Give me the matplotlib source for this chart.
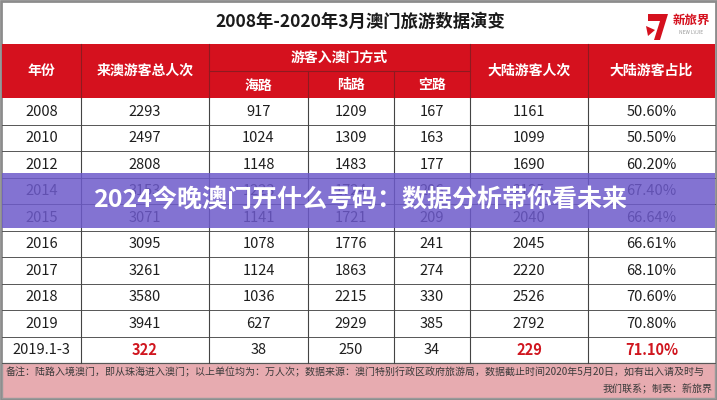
import matplotlib.pyplot as plt
from matplotlib.patches import Rectangle, Polygon

plt.rcParams['font.family'] = ['Noto Sans CJK SC', 'DejaVu Sans']

# table data (万人次)
years = ['2008', '2010', '2012', '2014', '2015', '2016', '2017', '2018', '2019', '2019.1-3']
total = [2293, 2497, 2808, 3153, 3071, 3095, 3261, 3580, 3941, 322]
sea = [917, 1024, 1148, 1223, 1141, 1078, 1124, 1036, 627, 38]
land = [1209, 1309, 1483, 1724, 1721, 1776, 1863, 2215, 2929, 250]
air = [167, 163, 177, 206, 209, 241, 274, 330, 385, 34]
mainland = [1161, 1099, 1690, 2125, 2040, 2045, 2220, 2526, 2792, 229]
share = ['50.60%', '50.50%', '60.20%', '67.40%', '66.64%', '66.61%', '68.10%', '70.60%', '70.80%', '71.10%']

title = '2008年-2020年3月澳门旅游数据演变'
banner = '2024今晚澳门开什么号码：数据分析带你看未来'
note1 = '备注：陆路入境澳门，即从珠海进入澳门；以上单位均为：万人次；数据来源：澳门特别行政区政府旅游局，数据截止时间2020年5月20日，如有出入请及时与'
note2 = '我们联系；制表：新旅界'

RED = '#d5111e'
W, H = 717, 400
col_x = [2, 81, 209, 308, 394, 470, 588, 715]
head_top, head_mid, head_bot = 44, 71, 98
row_h = 26.5
note_top, note_bot = 363, 398

fig = plt.figure(figsize=(7.17, 4.0), dpi=100)
ax = fig.add_axes([0, 0, 1, 1])
ax.set_xlim(0, W)
ax.set_ylim(H, 0)
ax.axis('off')

# frame + title
ax.add_patch(Rectangle((1, 1), W - 2, H - 2, fc='white', ec='#8c8c8c', lw=2))
ax.text(360, 22, title, ha='center', va='center', fontsize=12.5, fontweight='bold', color='#1a1a1a')

# logo
ax.add_patch(Polygon([(648, 14), (668, 14), (660, 40), (654, 40), (660, 21), (648, 21)], closed=True, fc=RED, ec='none'))
ax.add_patch(Polygon([(646, 26), (655, 30), (648, 36)], closed=True, fc=RED, ec='none'))
ax.text(691, 20, '新旅界', ha='center', va='center', fontsize=9, fontweight='bold', color=RED)
ax.text(691, 33, 'NEW LVJIE', ha='center', va='center', fontsize=3.5, color='#999999')

# header
ax.add_patch(Rectangle((col_x[0], head_top), col_x[-1] - col_x[0], head_bot - head_top, fc=RED, ec='none'))
hcol = '#8e1a20'
for x in col_x[1:-1]:
    if x in (col_x[3], col_x[4]):
        ax.plot([x, x], [head_mid, head_bot], color=hcol, lw=0.8)
    else:
        ax.plot([x, x], [head_top, head_bot], color=hcol, lw=0.8)
ax.plot([col_x[2], col_x[5]], [head_mid, head_mid], color=hcol, lw=0.8)

hkw = dict(ha='center', va='center', fontsize=10, fontweight='bold', color='white')
ymid = (head_top + head_bot) / 2
ax.text((col_x[0] + col_x[1]) / 2, ymid, '年份', **hkw)
ax.text((col_x[1] + col_x[2]) / 2, ymid, '来澳游客总人次', **hkw)
ax.text((col_x[2] + col_x[5]) / 2, (head_top + head_mid) / 2, '游客入澳门方式', **hkw)
for i, lab in enumerate(['海路', '陆路', '空路']):
    ax.text((col_x[2 + i] + col_x[3 + i]) / 2, (head_mid + head_bot) / 2 + 1, lab, **hkw)
ax.text((col_x[5] + col_x[6]) / 2, ymid, '大陆游客人次', **hkw)
ax.text((col_x[6] + col_x[7]) / 2, ymid, '大陆游客占比', **hkw)

# body rows
cols = [years, total, sea, land, air, mainland, share]
n = len(years)
for r in range(n):
    y0 = head_bot + r * row_h
    bg = '#efefef' if r % 2 == 0 else 'white'
    ax.add_patch(Rectangle((col_x[0], y0), col_x[-1] - col_x[0], row_h, fc=bg, ec='none', zorder=0.5))
    last = r == n - 1
    for c, vals in enumerate(cols):
        hi = last and c in (1, 5, 6)
        ax.text((col_x[c] + col_x[c + 1]) / 2, y0 + row_h / 2 + 0.5, str(vals[r]),
                ha='center', va='center', fontsize=10.5,
                color='#d0161f' if hi else '#1e1e1e', fontweight='bold' if hi else 'normal')
    ax.plot([col_x[0], col_x[-1]], [y0 + row_h, y0 + row_h], color='#555555', lw=0.7)
for x in col_x[1:-1]:
    ax.plot([x, x], [head_bot, note_top], color='#444444', lw=0.8)

# note box
ax.add_patch(Rectangle((col_x[0], note_top), col_x[-1] - col_x[0], note_bot - note_top, fc='#e7abb0', ec='#9a9a9a', lw=1))
ax.text(6, note_top + 9, note1, ha='left', va='center', fontsize=7.2, color='#3a3a3a')
ax.text(713, note_top + 26, note2, ha='right', va='center', fontsize=7.2, color='#3a3a3a')

# overlay banner
ax.add_patch(Rectangle((2, 173), 713, 55, fc='#6d5acb', ec='none', alpha=0.85, zorder=5))
ax.text(360, 200, banner, ha='center', va='center', fontsize=18, fontweight='bold', color='white', zorder=6)

fig.savefig('out.png', dpi=100)
